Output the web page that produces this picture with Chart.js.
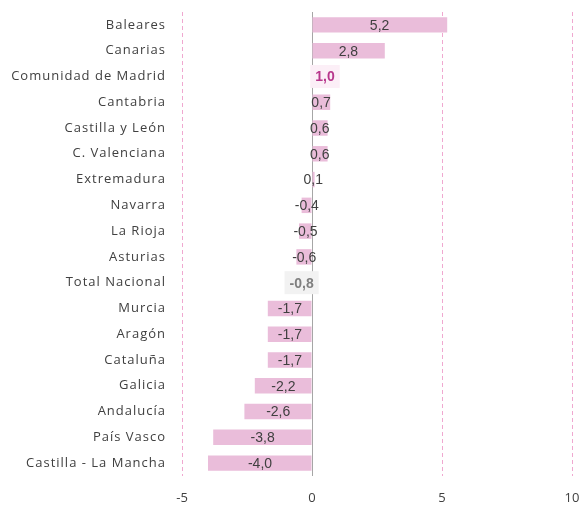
<!DOCTYPE html>
<html>
<head>
<meta charset="utf-8">
<script src="https://cdn.jsdelivr.net/npm/chart.js@4"></script>
<style>
html,body{margin:0;padding:0;background:#fff;}
#wrap{width:582px;height:506px;}
</style>
</head>
<body>
<div id="wrap"><canvas id="c" width="582" height="506"></canvas></div>
<script>
const categories = ["Baleares","Canarias","Comunidad de Madrid","Cantabria","Castilla y León","C. Valenciana","Extremadura","Navarra","La Rioja","Asturias","Total Nacional","Murcia","Aragón","Cataluña","Galicia","Andalucía","País Vasco","Castilla - La Mancha"];
const values = [5.2,2.8,1.0,0.7,0.6,0.6,0.1,-0.4,-0.5,-0.6,-0.8,-1.7,-1.7,-1.7,-2.2,-2.6,-3.8,-4.0];
const xTicks = [-5,0,5,10];
const highlightMadrid = "Comunidad de Madrid";
const highlightTotal = "Total Nacional";

const barColor = "#EABDDA";
const colors = categories.map(c => (c===highlightMadrid || c===highlightTotal) ? "rgba(0,0,0,0)" : barColor);

const fmt = v => v.toFixed(1).replace(".", ",");

const labelPlugin = {
  id: "barLabels",
  afterDatasetsDraw(chart) {
    const ctx = chart.ctx;
    const meta = chart.getDatasetMeta(0);
    const xs = chart.scales.x;
    ctx.save();
    ctx.textAlign = "center";
    ctx.textBaseline = "middle";
    meta.data.forEach((bar, i) => {
      const v = values[i];
      const cx = xs.getPixelForValue(v/2);
      const cy = bar.y;
      const txt = fmt(v);
      const cat = categories[i];
      if (cat === highlightMadrid || cat === highlightTotal) {
        ctx.font = "bold 14px 'Liberation Sans', Arial, sans-serif";
        const w = ctx.measureText(txt).width;
        const bw = w + 10, bh = 23;
        ctx.fillStyle = cat === highlightMadrid ? "#FCEFF7" : "#F2F2F2";
        ctx.fillRect(cx - bw/2, cy - bh/2, bw, bh);
        ctx.fillStyle = cat === highlightMadrid ? "#B8378C" : "#7F7F7F";
        ctx.fillText(txt, cx, cy + 1);
      } else {
        ctx.font = "14px 'Liberation Sans', Arial, sans-serif";
        ctx.fillStyle = "#404040";
        ctx.fillText(txt, cx, cy + 1);
      }
    });
    ctx.restore();
  }
};

function spacedLabels(s) {
  if (s._spaced) return;
  s._spaced = true;
  const orig = Object.getPrototypeOf(s).drawLabels;
  s.drawLabels = function(ca) {
    this.ctx.save();
    this.ctx.letterSpacing = "1px";
    orig.call(this, ca);
    this.ctx.restore();
  };
}

new Chart(document.getElementById("c"), {
  type: "bar",
  data: {
    labels: categories,
    datasets: [{
      data: values,
      backgroundColor: colors,
      borderWidth: 0,
      categoryPercentage: 1.0,
      barPercentage: 0.6
    }]
  },
  options: {
    indexAxis: "y",
    responsive: false,
    animation: false,
    events: [],
    layout: { padding: { top: 12, right: 10, bottom: 0, left: 0 } },
    plugins: { legend: { display: false }, tooltip: { enabled: false } },
    scales: {
      x: {
        min: -5, max: 10,
        afterBuildTicks: s => { s.ticks = xTicks.map(v => ({ value: v })); },
        afterFit: s => { s.height = 30; s.paddingLeft = 0; s.paddingRight = 0; },
        border: {
          display: false,
          dash: ctx => (ctx.tick && ctx.tick.value === 0) ? [] : [4, 3]
        },
        grid: {
          drawTicks: false,
          color: ctx => ctx.tick && ctx.tick.value === 0 ? "#A6A6A6" : "#F0A8D0",
          lineWidth: 1
        },
        ticks: {
          padding: 14,
          color: "#404040",
          font: { family: "'Open Sans', sans-serif", size: 13 }
        }
      },
      y: {
        afterFit: s => { s.width = 182; s.paddingTop = 0; s.paddingBottom = 0; spacedLabels(s); },
        border: { display: false },
        grid: { display: false, drawTicks: false },
        ticks: {
          padding: 16,
          color: "#404040",
          autoSkip: false,
          font: { family: "'Open Sans', sans-serif", size: 13 }
        }
      }
    }
  },
  plugins: [labelPlugin]
});
</script>
</body>
</html>
